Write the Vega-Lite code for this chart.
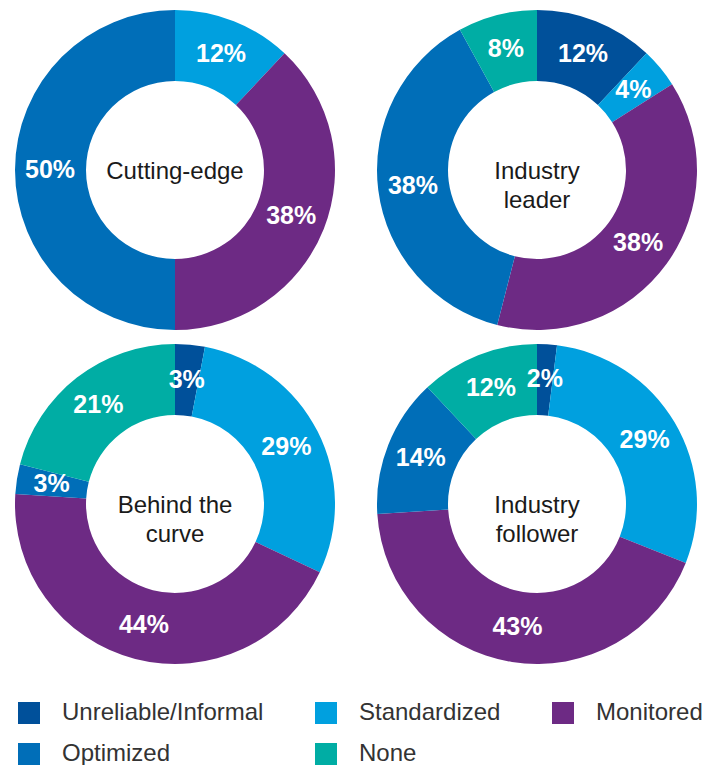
{
  "$schema": "https://vega.github.io/schema/vega-lite/v6.json",
  "data": {"values": [
    {"group": "Cutting-edge", "category": "Standardized", "rank": 2, "pct": 0.12},
    {"group": "Cutting-edge", "category": "Monitored", "rank": 3, "pct": 0.38},
    {"group": "Cutting-edge", "category": "Optimized", "rank": 4, "pct": 0.50},
    {"group": "Industry\nleader", "category": "Unreliable/Informal", "rank": 1, "pct": 0.12},
    {"group": "Industry\nleader", "category": "Standardized", "rank": 2, "pct": 0.04},
    {"group": "Industry\nleader", "category": "Monitored", "rank": 3, "pct": 0.38},
    {"group": "Industry\nleader", "category": "Optimized", "rank": 4, "pct": 0.38},
    {"group": "Industry\nleader", "category": "None", "rank": 5, "pct": 0.08},
    {"group": "Behind the\ncurve", "category": "Unreliable/Informal", "rank": 1, "pct": 0.03},
    {"group": "Behind the\ncurve", "category": "Standardized", "rank": 2, "pct": 0.29},
    {"group": "Behind the\ncurve", "category": "Monitored", "rank": 3, "pct": 0.44},
    {"group": "Behind the\ncurve", "category": "Optimized", "rank": 4, "pct": 0.03},
    {"group": "Behind the\ncurve", "category": "None", "rank": 5, "pct": 0.21},
    {"group": "Industry\nfollower", "category": "Unreliable/Informal", "rank": 1, "pct": 0.02},
    {"group": "Industry\nfollower", "category": "Standardized", "rank": 2, "pct": 0.29},
    {"group": "Industry\nfollower", "category": "Monitored", "rank": 3, "pct": 0.43},
    {"group": "Industry\nfollower", "category": "Optimized", "rank": 4, "pct": 0.14},
    {"group": "Industry\nfollower", "category": "None", "rank": 5, "pct": 0.12}
  ]},
  "facet": {
    "field": "group", "type": "nominal",
    "sort": ["Cutting-edge", "Industry\nleader", "Behind the\ncurve", "Industry\nfollower"],
    "title": null,
    "header": {"title": null, "labels": false, "labelExpr": "''", "labelPadding": 0, "labelFontSize": 0}
  },
  "columns": 2,
  "spacing": {"row": 4, "column": 22},
  "spec": {
    "width": 340,
    "height": 330,
    "layer": [
      {
        "mark": {"type": "arc", "innerRadius": 89, "outerRadius": 160},
        "encoding": {
          "theta": {"field": "pct", "type": "quantitative", "stack": true},
          "order": {"field": "rank", "type": "quantitative"},
          "color": {
            "field": "category", "type": "nominal",
            "scale": {
              "domain": ["Unreliable/Informal", "Standardized", "Monitored", "Optimized", "None"],
              "range": ["#00509A", "#00A0DF", "#6D2A84", "#006EB8", "#00ADA4"]
            },
            "legend": {
              "title": null, "orient": "none", "legendX": 12, "legendY": 696,
              "columns": 3, "direction": "horizontal"
            }
          }
        }
      },
      {
        "mark": {"type": "text", "radius": 125, "font": "Liberation Sans", "fontSize": 25, "fontWeight": "bold", "fill": "#ffffff", "align": "center", "baseline": "middle"},
        "encoding": {
          "theta": {"field": "pct", "type": "quantitative", "stack": true},
          "order": {"field": "rank", "type": "quantitative"},
          "detail": {"field": "category", "type": "nominal"},
          "text": {"field": "pct", "type": "quantitative", "format": ".0%"}
        }
      },
      {
        "transform": [{"filter": "datum.rank == 3"}],
        "mark": {"type": "text", "lineBreak": "\n", "lineHeight": 29, "font": "Liberation Sans", "fontSize": 24, "fill": "#1a1a1a", "align": "center", "baseline": "middle", "dy": 2},
        "encoding": {
          "text": {"field": "group", "type": "nominal"}
        }
      }
    ]
  },
  "config": {
    "view": {"stroke": null},
    "header": {"labels": false, "title": null, "labelPadding": 0},
    "legend": {
      "padding": 0,
      "symbolType": "square",
      "symbolSize": 484,
      "symbolStrokeWidth": 0,
      "labelFont": "Liberation Sans",
      "labelFontSize": 24,
      "labelColor": "#333333",
      "labelOffset": 21,
      "columnPadding": 50,
      "rowPadding": 17,
      "labelLimit": 400
    }
  }
}
